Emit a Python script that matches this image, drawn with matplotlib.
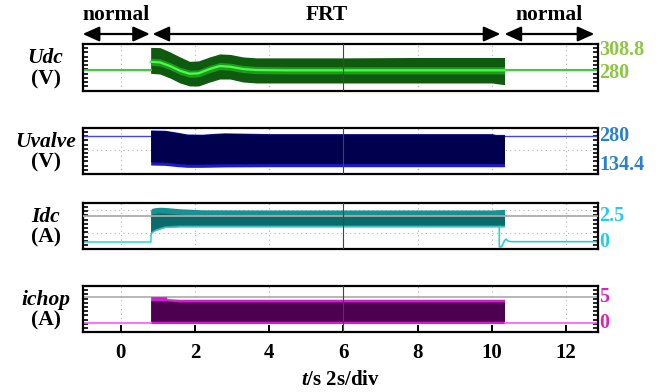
import numpy as np
import matplotlib
matplotlib.use("Agg")
import matplotlib.pyplot as plt
import matplotlib.transforms as mtransforms

plt.rcParams['font.family'] = ['Liberation Serif', 'DejaVu Serif']
plt.rcParams['font.weight'] = 'bold'
plt.rcParams['mathtext.fontset'] = 'custom'
plt.rcParams['mathtext.it'] = 'Liberation Serif:italic:bold'
plt.rcParams['mathtext.rm'] = 'Liberation Serif:bold'

# ---------------- data ----------------
t_frt_start = 0.81
t_frt_end = 10.34
x_ticks = [0, 2, 4, 6, 8, 10, 12]

# Udc (V)
udc_base = 280
udc_t = [0.81, 1.06, 1.33, 1.6, 1.86, 2.1, 2.4, 2.67, 2.95, 3.3, 3.66, 4.5, 6.0, 8.0, 10.0, 10.34]
udc_mid = [294.3, 293.3, 287.2, 279.3, 274.3, 275.0, 282.2, 287.2, 286.0, 282.2, 280.5, 280.0, 280.0, 280.0, 280.0, 280.0]
udc_hi = [318.3, 318.0, 310.8, 302.4, 295.0, 295.8, 302.4, 307.4, 306.6, 302.4, 300.8, 300.8, 300.8, 301.5, 301.5, 301.5]
udc_lo = [275.0, 273.8, 267.2, 258.9, 253.9, 253.9, 260.5, 265.5, 265.5, 260.5, 258.9, 258.9, 258.9, 258.9, 258.9, 256.0]
udc_labels = ['308.8', '280']
udc_label_vals = [308.8, 280]

# Uvalve (V)
uv_base = 280
uv_t = [0.81, 1.2, 1.5, 1.8, 2.2, 2.5, 2.8, 4.0, 6.0, 8.0, 10.0, 10.1, 10.34]
uv_hi = [310.7, 309.0, 300.0, 290.0, 289.0, 293.0, 296.0, 292.0, 292.0, 292.0, 292.0, 288.0, 288.0]
uv_lo = [131.8, 130.0, 124.0, 120.0, 120.0, 121.0, 122.0, 123.0, 123.0, 123.0, 123.0, 123.0, 123.0]
uv_labels = ['280', '134.4']
uv_label_vals = [280, 134.4]

# Idc (A)
idc_base = 0.0
idc_ref = 2.5
idc_t = [0.81, 0.85, 0.95, 1.05, 1.2, 1.6, 2.2, 4.0, 6.0, 8.0, 10.0, 10.34]
idc_hi = [3.10, 3.25, 3.32, 3.35, 3.33, 3.20, 3.10, 3.08, 3.08, 3.08, 3.08, 3.15]
idc_lo = [0.60, 0.90, 1.10, 1.22, 1.38, 1.45, 1.45, 1.45, 1.45, 1.45, 1.45, 1.45]
idc_end_t = [10.20, 10.20, 10.26, 10.34, 10.38, 10.44, 10.52, 10.65, 12.9]
idc_end_v = [1.45, -0.50, -0.50, 0.10, 0.25, 0.05, 0.00, 0.00, 0.00]
idc_labels = ['2.5', '0']
idc_label_vals = [2.5, 0.0]

# ichop (A)
ich_base = 0.0
ich_ref = 5.0
ich_t = [0.81, 1.24, 1.25, 1.6, 4.0, 8.0, 10.34]
ich_hi = [5.13, 5.13, 4.75, 4.62, 4.62, 4.62, 4.62]
ich_dark_hi = [4.35, 4.30, 4.30, 4.10, 4.10, 4.10, 4.10]
ich_lo = [-0.05, -0.05, -0.05, -0.05, -0.05, -0.05, -0.05]
ich_labels = ['5', '0']
ich_label_vals = [5.0, 0.0]

# ---------------- layout ----------------
W, H = 665, 392
fig = plt.figure(figsize=(W / 100, H / 100), dpi=100)

def px_axes(top, bottom, left=82.7, right=597.7):
    return fig.add_axes([left / W, 1 - bottom / H, (right - left) / W, (bottom - top) / H])

ax_udc = px_axes(44, 90.7)
ax_uv = px_axes(127.7, 174)
ax_idc = px_axes(202.7, 249.3)
ax_ich = px_axes(286, 332.3)

xlim = (-1.02, 12.85)
ylims = {ax_udc: (246, 324), ax_uv: (86, 322), ax_idc: (-0.74, 3.79), ax_ich: (-1.73, 7.17)}

for ax in [ax_udc, ax_uv, ax_idc, ax_ich]:
    ax.set_xlim(*xlim)
    lo, hi = ylims[ax]
    ax.set_ylim(lo, hi)
    for s in ax.spines.values():
        s.set_linewidth(1.6)
        s.set_color('black')
    ax.set_yticks(np.linspace(lo, hi, 12)[1:-1])
    ax.tick_params(axis='y', which='both', direction='in', length=3.5, width=1.2,
                   left=True, right=True, labelleft=False, labelright=False)
    ax.tick_params(axis='x', which='both', bottom=False, labelbottom=False)
    for xv in x_ticks:
        if xv == 6:
            ax.axvline(xv, color='#444444', lw=0.8, zorder=5)
        else:
            ax.axvline(xv, color='#b5b5b5', lw=0.8, ls=(0, (1, 3)), zorder=0)

# ---- Udc ----
ax = ax_udc
ax.plot([xlim[0], t_frt_start], [udc_base, udc_base], color='#22dd22', lw=1.4, zorder=2)
ax.plot([t_frt_end, xlim[1]], [udc_base, udc_base], color='#22dd22', lw=1.4, zorder=2)
ax.fill_between(udc_t, udc_lo, udc_hi, color='#0f5a0f', lw=0, zorder=1)
ax.fill_between(udc_t, np.array(udc_mid) - 6, np.array(udc_mid) + 6, color='#1f9a1f', lw=0, zorder=2)
ax.plot(udc_t, udc_mid, color='#44ff44', lw=1.6, zorder=3)

# ---- Uvalve ----
ax = ax_uv
ax.plot([xlim[0], t_frt_start], [uv_base, uv_base], color='#4444ee', lw=1.0, zorder=2)
ax.plot([t_frt_end, xlim[1]], [uv_base, uv_base], color='#4444ee', lw=1.0, zorder=2)
ax.fill_between(uv_t, uv_lo, uv_hi, color='#1a1acc', lw=0, zorder=1)
ax.fill_between(uv_t, np.array(uv_lo) + 16, np.array(uv_hi) - 3, color='#00004e', lw=0, zorder=2)
ax.axhline(uv_base - 70, color='#b5b5b5', lw=0.8, ls=(0, (1, 3)), zorder=0)

# ---- Idc ----
ax = ax_idc
ax.plot([xlim[0], t_frt_start, t_frt_start], [idc_base, idc_base, idc_lo[0]], color='#33dddd', lw=1.2, zorder=2)
ax.plot(idc_end_t, idc_end_v, color='#33cccc', lw=1.2, zorder=2)
ax.fill_between(idc_t, idc_lo, idc_hi, color='#169292', lw=0, zorder=1)
ax.fill_between(idc_t, np.array(idc_lo) + 0.2, np.array(idc_hi) - 0.55, color='#0b6a6a', lw=0, zorder=1)
ax.plot(idc_t, idc_lo, color='#40c8c8', lw=0.9, zorder=2)
ax.axhline(idc_ref, color='#aaaaaa', lw=1.4, zorder=4, alpha=0.9)
ax.axhline(3.08, color='#b5b5b5', lw=0.8, ls=(0, (1, 3)), zorder=0)
ax.axhline(0.88, color='#b5b5b5', lw=0.8, ls=(0, (1, 3)), zorder=0)

# ---- ichop ----
ax = ax_ich
ax.plot([xlim[0], t_frt_start], [ich_base, ich_base], color='#ff55ff', lw=1.2, zorder=2)
ax.plot([t_frt_end, xlim[1]], [ich_base, ich_base], color='#ff55ff', lw=1.2, zorder=2)
ax.fill_between(ich_t, ich_lo, ich_hi, color='#d41ad4', lw=0, zorder=1)
ax.fill_between(ich_t, np.array(ich_lo) + 0.45, ich_dark_hi, color='#4e0050', lw=0, zorder=2)
ax.axhline(ich_ref, color='#aaaaaa', lw=1.2, zorder=0)
ax.set_xticks(x_ticks)
ax.tick_params(axis='x', which='both', bottom=True, labelbottom=True, direction='in',
               length=5, width=1.4, labelsize=15, pad=8)
for lab in ax.get_xticklabels():
    lab.set_fontweight('bold')
ax.set_xlabel(r'$t$/s 2s/div', fontsize=15, fontweight='bold', labelpad=5)

# ---- right-hand value labels ----
right_specs = [
    (ax_udc, udc_labels, udc_label_vals, '#8dc63f', [2.0, -2.0]),
    (ax_uv, uv_labels, uv_label_vals, '#2a7fd0', [0, 0]),
    (ax_idc, idc_labels, idc_label_vals, '#22ccee', [0, 0]),
    (ax_ich, ich_labels, ich_label_vals, '#dd22bb', [0, 0]),
]
for ax, labs, vals, col, offs in right_specs:
    trans = mtransforms.blended_transform_factory(ax.transAxes, ax.transData)
    for lab, v, o in zip(labs, vals, offs):
        tr_off = mtransforms.offset_copy(trans, fig=fig, x=0, y=o, units='points')
        ax.text(1.003, v, lab, transform=tr_off, color=col, fontsize=14.5,
                fontweight='bold', ha='left', va='center', clip_on=False)

# ---- left-hand names ----
left_specs = [
    (ax_udc, 'Udc', '(V)'),
    (ax_uv, 'Uvalve', '(V)'),
    (ax_idc, 'Idc', '(A)'),
    (ax_ich, 'ichop', '(A)'),
]
for ax, name, unit in left_specs:
    ax.text(-0.072, 0.70, name, transform=ax.transAxes, fontsize=15.5, fontweight='bold',
            fontstyle='italic', ha='center', va='center')
    ax.text(-0.072, 0.25, unit, transform=ax.transAxes, fontsize=15.5, fontweight='bold',
            ha='center', va='center')

# ---- top annotations ----
ax = ax_udc
tr = mtransforms.blended_transform_factory(ax.transData, ax.transAxes)
arrow_y = 1.214
text_y = 1.62
segments = [(-1.02, 0.79, 'normal'), (0.86, 10.23, 'FRT'), (10.34, 12.76, 'normal')]
for x0, x1, lab in segments:
    ax.annotate('', xy=(x1, arrow_y), xytext=(x0, arrow_y), xycoords=tr, textcoords=tr,
                arrowprops=dict(arrowstyle='<|-|>,head_length=1.0,head_width=0.45',
                                mutation_scale=10, lw=1.6, color='black',
                                shrinkA=0, shrinkB=0), annotation_clip=False)
    ax.text((x0 + x1) / 2, text_y, lab, transform=tr, fontsize=15.5, fontweight='bold',
            ha='center', va='center', clip_on=False)

fig.savefig('out.png', dpi=100)
